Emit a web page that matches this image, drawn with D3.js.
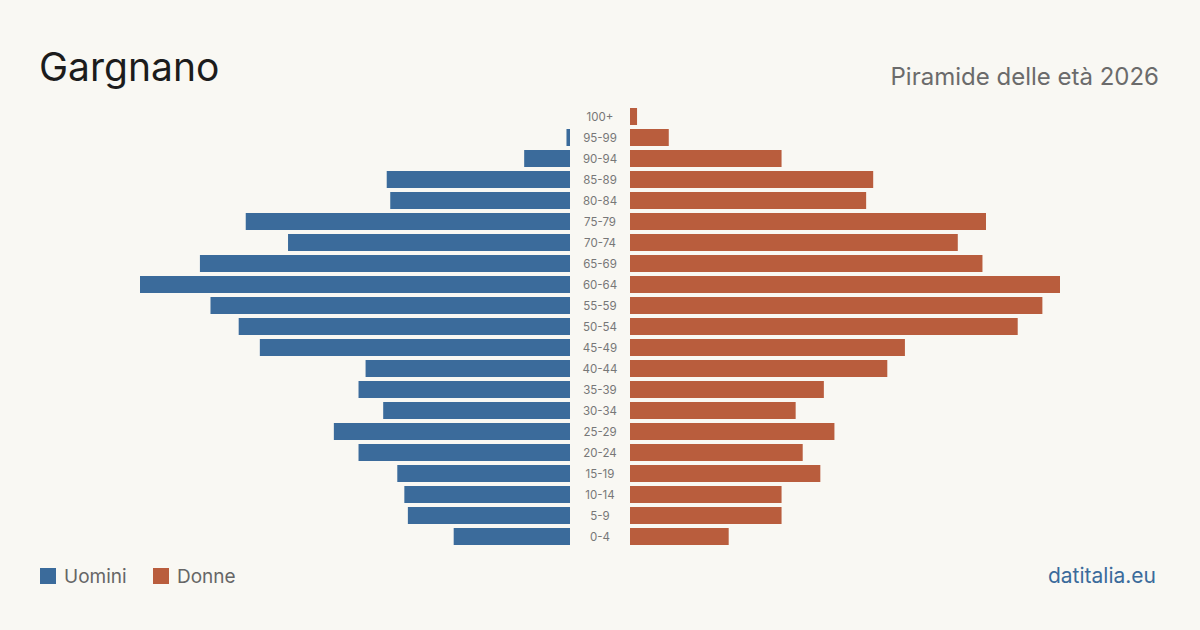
<!DOCTYPE html>
<html>
<head>
<meta charset="utf-8">
<script src="https://cdn.jsdelivr.net/npm/d3@7"></script>
<style>
  body { margin: 0; background: #f9f8f3; }
  svg { display: block; font-family: Inter, "Noto Sans", sans-serif; }
</style>
</head>
<body>
<svg id="chart"></svg>
<script>
var width = 1200;
var height = 630;

// age groups, top to bottom
var ageGroups = ["100+", "95-99", "90-94", "85-89", "80-84", "75-79", "70-74", "65-69",
  "60-64", "55-59", "50-54", "45-49", "40-44", "35-39", "30-34", "25-29",
  "20-24", "15-19", "10-14", "5-9", "0-4"];
var men = [0, 1, 13, 52, 51, 92, 80, 105, 122, 102, 94, 88, 58, 60, 53, 67, 60, 49, 47, 46, 33];
var women = [2, 11, 43, 69, 67, 101, 93, 100, 122, 117, 110, 78, 73, 55, 47, 58, 49, 54, 43, 43, 28];
var legendLabels = ["Uomini", "Donne"];

var blue = "#3b6b9b";
var orange = "#b95d3d";

var svg = d3.select("#chart")
  .attr("width", width)
  .attr("height", height);

svg.append("rect").attr("width", width).attr("height", height).attr("fill", "#f9f8f3");

var rows = ageGroups.map(function(g, i) { return { age: g, m: men[i], f: women[i] }; });

var maxVal = d3.max(rows, function(d) { return Math.max(d.m, d.f); });

// half-width scales, one for each side of the centre labels
var xLeft = d3.scaleLinear().domain([0, maxVal]).range([570, 140]);
var xRight = d3.scaleLinear().domain([0, maxVal]).range([630, 1060]);

var y = d3.scaleBand()
  .domain(ageGroups)
  .range([106, 547])
  .paddingInner(4 / 21)
  .paddingOuter(2 / 21);

// men bars
svg.selectAll(".bar-m")
  .data(rows)
  .enter()
  .append("rect")
  .attr("class", "bar-m")
  .attr("x", function(d) { return xLeft(d.m); })
  .attr("y", function(d) { return y(d.age); })
  .attr("width", function(d) { return xLeft(0) - xLeft(d.m); })
  .attr("height", y.bandwidth())
  .attr("fill", blue);

// women bars
svg.selectAll(".bar-f")
  .data(rows)
  .enter()
  .append("rect")
  .attr("class", "bar-f")
  .attr("x", xRight(0))
  .attr("y", function(d) { return y(d.age); })
  .attr("width", function(d) { return xRight(d.f) - xRight(0); })
  .attr("height", y.bandwidth())
  .attr("fill", orange);

// age labels in the middle
svg.selectAll(".age-label")
  .data(rows)
  .enter()
  .append("text")
  .attr("class", "age-label")
  .attr("x", 600)
  .attr("y", function(d) { return y(d.age) + y.bandwidth() / 2; })
  .attr("dy", "0.36em")
  .attr("text-anchor", "middle")
  .attr("font-size", 11.5)
  .attr("fill", "#777")
  .text(function(d) { return d.age; });

// title + subtitle
svg.append("text")
  .attr("x", 39)
  .attr("y", 81)
  .attr("font-size", 39)
  .attr("fill", "#1c1c1c")
  .text("Gargnano");

svg.append("text")
  .attr("x", 1159)
  .attr("y", 85)
  .attr("text-anchor", "end")
  .attr("font-size", 24)
  .attr("fill", "#6b6b6b")
  .text("Piramide delle età 2026");

// legend
var legend = svg.append("g");
var legendX = [40, 153];
[blue, orange].forEach(function(c, i) {
  legend.append("rect")
    .attr("x", legendX[i])
    .attr("y", 568)
    .attr("width", 16)
    .attr("height", 16)
    .attr("fill", c);
  legend.append("text")
    .attr("x", legendX[i] + 24)
    .attr("y", 583)
    .attr("font-size", 19)
    .attr("fill", "#666")
    .text(legendLabels[i]);
});

svg.append("text")
  .attr("x", 1156)
  .attr("y", 583)
  .attr("text-anchor", "end")
  .attr("font-size", 21)
  .attr("fill", blue)
  .text("datitalia.eu");
</script>
</body>
</html>
